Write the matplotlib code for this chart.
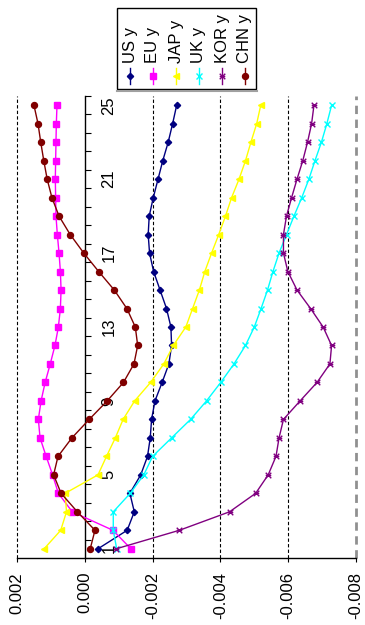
import numpy as np
import matplotlib.pyplot as plt
from matplotlib.lines import Line2D
from matplotlib.patches import Rectangle
from matplotlib.path import Path

plt.rcParams['font.family'] = ['Liberation Sans', 'DejaVu Sans']

# period index and series values (units of 1e-3)
periods = list(range(1, 26))
tick_periods = [1, 5, 9, 13, 17, 21, 25]

us_y = [-0.39, -1.25, -1.46, -1.33, -1.65, -1.85, -1.93, -1.97, -2.07, -2.28, -2.48, -2.56, -2.54,
        -2.41, -2.22, -2.03, -1.91, -1.87, -1.90, -2.02, -2.16, -2.30, -2.46, -2.59, -2.71]
eu_y = [-1.36, -0.83, 0.37, 0.78, 0.95, 1.14, 1.32, 1.37, 1.29, 1.17, 1.02, 0.88, 0.78,
        0.72, 0.70, 0.72, 0.76, 0.81, 0.85, 0.86, 0.87, 0.86, 0.85, 0.84, 0.82]
jap_y = [1.20, 0.71, 0.54, 0.58, -0.39, -0.64, -0.90, -1.13, -1.47, -1.94, -2.33, -2.61, -2.98,
         -3.18, -3.38, -3.54, -3.74, -3.95, -4.15, -4.33, -4.55, -4.74, -4.90, -5.07, -5.19]
uk_y = [-0.94, -0.84, -0.84, -1.34, -1.74, -2.00, -2.56, -3.12, -3.59, -4.01, -4.40, -4.74, -5.00,
        -5.20, -5.39, -5.55, -5.73, -5.95, -6.17, -6.40, -6.61, -6.79, -6.98, -7.14, -7.28]
kor_y = [-0.93, -2.79, -4.27, -5.04, -5.41, -5.64, -5.73, -5.86, -6.35, -6.85, -7.23, -7.28, -7.03,
         -6.66, -6.26, -5.99, -5.86, -5.86, -5.95, -6.10, -6.26, -6.43, -6.57, -6.69, -6.76]
chn_y = [-0.16, -0.30, 0.22, 0.70, 0.92, 0.79, 0.38, -0.13, -0.66, -1.14, -1.45, -1.56, -1.49,
         -1.24, -0.87, -0.41, 0.03, 0.43, 0.76, 0.97, 1.11, 1.21, 1.30, 1.38, 1.50]

value_ticks = [0.002, 0.0, -0.002, -0.004, -0.006, -0.008]

# star marker: an x with a crossbar
star = Path([(-1, -1), (1, 1), (-1, 1), (1, -1), (-1, 0), (1, 0)],
            [Path.MOVETO, Path.LINETO, Path.MOVETO, Path.LINETO, Path.MOVETO, Path.LINETO])

series = [
    ("US y", us_y, "#000080", "D", 3.2, "#000080"),
    ("EU y", eu_y, "#FF00FF", "s", 4.2, "#FF00FF"),
    ("JAP y", jap_y, "#FFFF00", "<", 5.0, "#FFFF00"),
    ("UK y", uk_y, "#00FFFF", "x", 4.0, "none"),
    ("KOR y", kor_y, "#800080", star, 4.0, "none"),
    ("CHN y", chn_y, "#800000", "o", 4.3, "#800000"),
]

W, H = 365, 625
fig = plt.figure(figsize=(W / 100, H / 100), dpi=100)


def fx(x):
    return x / W


def fy(y):
    return 1 - y / H


ax = fig.add_axes([fx(17), fy(558), fx(356) - fx(17), fy(96) - fy(558)])
ax.set_xlim(0.002, -0.008)
ax.set_ylim(0.5, 25.5)

# dashed value gridlines
for v in value_ticks[:-1]:
    if v == 0:
        continue
    ax.axvline(v, color='black', lw=0.8, ls=(0, (3, 2)), zorder=1, clip_on=False)
ax.axvline(-0.008, color='#909090', lw=2.0, ls=(0, (3, 2)), zorder=1, clip_on=False)

for name, vals, col, mk, ms, fc in series:
    ax.plot(np.array(vals) * 1e-3, periods, color=col, lw=1.0, marker=mk, ms=ms,
            mfc=fc, mec=col, mew=1.0, zorder=3)

# value axis along the bottom
ax.spines['top'].set_visible(False)
ax.spines['left'].set_visible(False)
ax.spines['bottom'].set_linewidth(1.0)
ax.set_xticks(value_ticks)
ax.set_xticklabels([f"{v:.3f}" for v in value_ticks], rotation=90, fontsize=12)
ax.tick_params(axis='x', direction='out', length=3, width=0.8, pad=7)

# category axis crossing at zero
ax.spines['right'].set_position(('data', 0))
ax.spines['right'].set_linewidth(1.0)
ax.spines['right'].set_zorder(2)
ax.yaxis.set_ticks_position('right')
ax.set_yticks(tick_periods)
ax.set_yticklabels([str(p) for p in tick_periods], rotation=90, fontsize=12, va='center')
ax.set_yticks(np.arange(0.5, 26, 1.0), minor=True)
ax.tick_params(axis='y', which='major', length=0, pad=12)
ax.tick_params(axis='y', which='minor', direction='out', length=4.5, width=0.8)

# legend box, entries laid out side by side
fig.add_artist(Line2D([fx(117), fx(257)], [fy(90.5), fy(90.5)], transform=fig.transFigure,
                      color='#a0a0a0', lw=1.5))
fig.add_artist(Rectangle((fx(117), fy(89)), fx(256) - fx(117), fy(8) - fy(89),
                         transform=fig.transFigure, facecolor='white', edgecolor='black', lw=1.0))
leg_x = [130, 153, 176, 199, 222, 245]
for lx, (name, vals, col, mk, ms, fc) in zip(leg_x, series):
    fig.add_artist(Line2D([fx(lx), fx(lx)], [fy(84), fy(68)], transform=fig.transFigure,
                          color=col, lw=1.0))
    fig.add_artist(Line2D([fx(lx)], [fy(76)], transform=fig.transFigure, color=col,
                          marker=mk, ms=ms, mfc=fc, mec=col, mew=1.0))
    fig.text(fx(lx), fy(63), name, rotation=90, ha='center', va='bottom', fontsize=12)

fig.savefig("out.png", dpi=100)
